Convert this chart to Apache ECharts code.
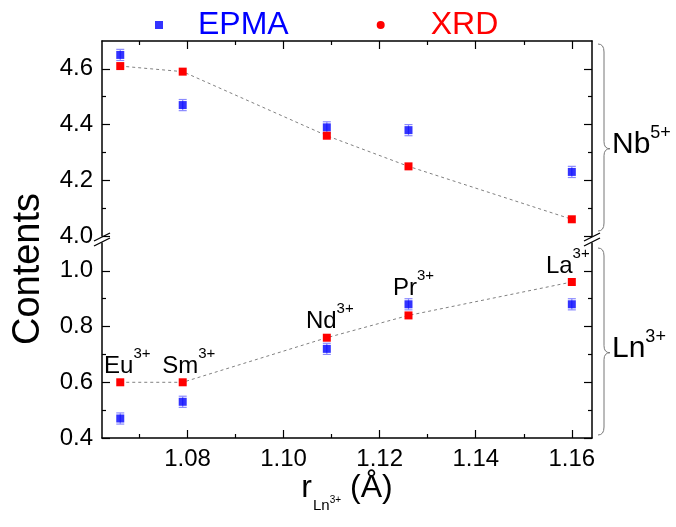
<!DOCTYPE html>
<html>
<head>
<meta charset="utf-8">
<script src="https://cdn.jsdelivr.net/npm/echarts@6/dist/echarts.min.js"></script>
<style>
  html, body { margin: 0; background: #fff; }
  #chart { width: 676px; height: 527px; }
</style>
</head>
<body>
<div id="chart"></div>
<script>
// ionic radius of Ln3+ (Å)
const radius = [1.066, 1.079, 1.109, 1.126, 1.160]
const ions = ['Eu', 'Sm', 'Nd', 'Pr', 'La']

// Nb5+ contents
const nbEpma = [4.65, 4.47, 4.39, 4.38, 4.23]
const nbXrd = [4.61, 4.59, 4.36, 4.25, 4.06]
// Ln3+ contents
const lnEpma = [0.47, 0.53, 0.72, 0.88, 0.88]
const lnXrd = [0.60, 0.60, 0.76, 0.84, 0.96]
const epmaErr = [0.02, 0.02, 0.02, 0.02, 0.02]

const majorX = [1.08, 1.10, 1.12, 1.14, 1.16]
const minorX = [1.07, 1.09, 1.11, 1.13, 1.15]
const nbTicks = [4.0, 4.2, 4.4, 4.6]
const nbMinor = [4.1, 4.3, 4.5]
const lnTicks = [0.4, 0.6, 0.8, 1.0]
const lnMinor = [0.5, 0.7, 0.9]

const xRange = [1.0622, 1.1642]
const nbRange = [4.0, 4.7]
const lnRange = [0.4, 1.1]

const font = "'Liberation Sans', Arial, sans-serif"
const labelShift = [7, 6, 3, 5, -4]

const chart = echarts.init(document.getElementById('chart'))

function makeX(grid, pos, ticks, len, labels, line) {
  return {
    type: 'value', gridIndex: grid, position: pos, min: xRange[0], max: xRange[1],
    axisLine: { show: line, onZero: false, lineStyle: { color: '#000', width: 1.5 } },
    axisTick: { show: true, inside: true, length: len, customValues: ticks, lineStyle: { color: '#000', width: 1.2 } },
    axisLabel: {
      show: labels, customValues: ticks, margin: 9, fontSize: 24, fontFamily: font, color: '#000',
      formatter: (v) => v.toFixed(2),
    },
    splitLine: { show: false },
  }
}

function makeY(grid, pos, range, ticks, len, labels, line) {
  return {
    type: 'value', gridIndex: grid, position: pos, min: range[0], max: range[1],
    axisLine: { show: line, onZero: false, lineStyle: { color: '#000', width: 1.5 } },
    axisTick: { show: true, inside: true, length: len, customValues: ticks, lineStyle: { color: '#000', width: 1.2 } },
    axisLabel: {
      show: labels, customValues: ticks, margin: 9, fontSize: 24, fontFamily: font, color: '#000',
      formatter: (v) => v.toFixed(1),
    },
    splitLine: { show: false },
  }
}

function errBar(params, api) {
  const x = api.value(0)
  const lo = api.coord([x, api.value(1)])
  const hi = api.coord([x, api.value(2)])
  const w = 4
  const style = { stroke: '#8a8aff', lineWidth: 1.2 }
  return {
    type: 'group',
    children: [
      { type: 'line', shape: { x1: lo[0], y1: lo[1], x2: hi[0], y2: hi[1] }, style },
      { type: 'line', shape: { x1: lo[0] - w, y1: lo[1], x2: lo[0] + w, y2: lo[1] }, style },
      { type: 'line', shape: { x1: hi[0] - w, y1: hi[1], x2: hi[0] + w, y2: hi[1] }, style },
    ],
  }
}

const pts = (ys) => radius.map((r, i) => [r, ys[i]])
const errs = (ys) => radius.map((r, i) => [r, ys[i] - epmaErr[i], ys[i] + epmaErr[i]])

function panelSeries(xi, yi, epma, xrd) {
  return [
    {
      name: 'EPMA err', type: 'custom', xAxisIndex: xi, yAxisIndex: yi, renderItem: errBar,
      encode: { x: 0, y: [1, 2] }, data: errs(epma), silent: true, z: 2,
    },
    {
      name: 'EPMA', type: 'scatter', xAxisIndex: xi, yAxisIndex: yi, symbol: 'rect', symbolSize: 8,
      itemStyle: { color: '#0000ff' }, data: pts(epma), z: 3,
    },
    {
      name: 'XRD', type: 'line', xAxisIndex: xi, yAxisIndex: yi, symbol: 'rect', symbolSize: 8,
      itemStyle: { color: '#ff0000' }, lineStyle: { color: '#808080', width: 1, type: [3, 3] },
      data: pts(xrd), z: 4,
    },
  ]
}

// superscript: both tokens fill the same line box, the base text pushed down by padding
const supRich = (base, sup, pad) => ({
  a: { fontSize: base, lineHeight: base, padding: [pad, 0, 0, 0], fontFamily: font, color: '#000' },
  b: { fontSize: sup, lineHeight: sup, padding: [0, 0, base + pad - sup, 0], fontFamily: font, color: '#000' },
})

const option = {
  animation: false,
  grid: [
    { left: 102, width: 490, top: 41, height: 195 },
    { left: 102, width: 490, top: 243, height: 195 },
  ],
  legend: {
    top: 4, left: 150, itemWidth: 8, itemHeight: 8, itemGap: 88, selectedMode: false,
    textStyle: { fontSize: 32, fontFamily: font },
    data: [
      { name: 'EPMA', icon: 'rect', itemStyle: { color: '#0000ff' }, textStyle: { color: '#0000ff', padding: [0, 0, 0, 30] } },
      { name: 'XRD', icon: 'circle', itemStyle: { color: '#ff0000' }, textStyle: { color: '#ff0000', padding: [0, 0, 0, 41] } },
    ],
  },
  xAxis: [
    makeX(0, 'top', majorX, 8, false, true),
    makeX(0, 'top', minorX, 4, false, false),
    Object.assign(makeX(1, 'bottom', majorX, 8, true, true), {
      name: '{r|r}{s|Ln}{t|3+}{r| (Å)}',
      nameLocation: 'middle',
      nameGap: 35,
      nameTextStyle: {
        fontFamily: font, color: '#000',
        rich: {
          r: { fontSize: 32, lineHeight: 32, padding: [0, 0, 9, 0], fontFamily: font, color: '#000' },
          s: { fontSize: 15, lineHeight: 15, padding: [26, 0, 0, 1], fontFamily: font, color: '#000' },
          t: { fontSize: 10, lineHeight: 10, padding: [23, 0, 8, 0], fontFamily: font, color: '#000' },
        },
      },
    }),
    makeX(1, 'bottom', minorX, 4, false, false),
  ],
  yAxis: [
    makeY(0, 'left', nbRange, nbTicks, 8, true, true),
    makeY(0, 'left', nbRange, nbMinor, 4, false, false),
    makeY(0, 'right', nbRange, nbTicks, 8, false, true),
    makeY(0, 'right', nbRange, nbMinor, 4, false, false),
    makeY(1, 'left', lnRange, lnTicks, 8, true, true),
    makeY(1, 'left', lnRange, lnMinor, 4, false, false),
    makeY(1, 'right', lnRange, lnTicks, 8, false, true),
    makeY(1, 'right', lnRange, lnMinor, 4, false, false),
  ],
  series: [
    ...panelSeries(0, 0, nbEpma, nbXrd),
    ...panelSeries(2, 4, lnEpma, lnXrd),
    {
      name: 'ion labels', type: 'scatter', xAxisIndex: 2, yAxisIndex: 4, symbolSize: 0, silent: true, z: 5,
      data: radius.map((r, i) => ({
        value: [r, Math.max(lnXrd[i], lnEpma[i])],
        label: { offset: [labelShift[i], 0] },
      })),
      label: {
        show: true, position: 'top', distance: 8, color: '#000', opacity: 1, textBorderWidth: 0,
        formatter: (p) => `{a|${ions[p.dataIndex]}}{b|3+}`,
        rich: supRich(24, 15, 8),
      },
    },
  ],
}

chart.setOption(option)

// decorations: axis breaks, braces and side labels
const braceStyle = { stroke: '#777', fill: null, lineWidth: 1 }

function brace(x, y0, y1, tipFrac) {
  const w = 12
  const m = y0 + (y1 - y0) * tipFrac
  const xm = x + w / 2
  const q = (x1, y1, cx, cy, x2, y2) => ({
    type: 'bezierCurve', z: 100, style: braceStyle,
    shape: { x1, y1, cpx1: cx, cpy1: cy, x2, y2 },
  })
  const l = (x1, y1, x2, y2) => ({ type: 'line', z: 100, style: braceStyle, shape: { x1, y1, x2, y2 } })
  return [
    q(x, y0, xm, y0, xm, y0 + 8),
    l(xm, y0 + 8, xm, m - 7),
    q(xm, m - 7, xm, m, x + w, m),
    q(x + w, m, xm, m, xm, m + 7),
    l(xm, m + 7, xm, y1 - 8),
    q(xm, y1 - 8, xm, y1, x, y1),
  ]
}

const xRight = chart.convertToPixel({ xAxisIndex: 0 }, xRange[1])
const xLeft = chart.convertToPixel({ xAxisIndex: 0 }, xRange[0])
const nbTop = chart.convertToPixel({ yAxisIndex: 0 }, nbRange[1])
const nbBot = chart.convertToPixel({ yAxisIndex: 0 }, nbRange[0])
const lnTop = chart.convertToPixel({ yAxisIndex: 4 }, lnRange[1])
const lnBot = chart.convertToPixel({ yAxisIndex: 4 }, lnRange[0])
const breakY = (nbBot + lnTop) / 2

function breakMarks(x) {
  return [-2.5, 2.5].map((d) => ({
    type: 'line', z: 100,
    shape: { x1: x - 8, y1: breakY + d + 4, x2: x + 8, y2: breakY + d - 4 },
    style: { stroke: '#000', lineWidth: 1.3 },
  }))
}

function sideLabel(main, sup, y) {
  return {
    type: 'text', x: xRight + 20, y: Math.round(y), z: 100,
    style: { text: `{a|${main}}{b|${sup}}`, verticalAlign: 'middle', rich: supRich(30, 18, 6) },
  }
}

const nbTip = nbTop + 3 + (nbBot - nbTop - 8) * 0.56
const lnTip = lnTop + 5 + (lnBot - lnTop - 8) * 0.56

chart.setOption({
  graphic: [
    ...breakMarks(xLeft),
    ...breakMarks(xRight),
    ...brace(xRight + 6, nbTop + 3, nbBot - 5, 0.56),
    ...brace(xRight + 6, lnTop + 5, lnBot - 3, 0.56),
    sideLabel('Nb', '5+', nbTip - 7),
    sideLabel('Ln', '3+', lnTip - 7),
    {
      type: 'text', x: 29, y: Math.round((nbTop + lnBot) / 2 + 29), rotation: Math.PI / 2, z: 100,
      style: { text: 'Contents', fontSize: 38, fontFamily: font, fill: '#000', align: 'center', verticalAlign: 'middle' },
    },
  ],
})
</script>
</body>
</html>
